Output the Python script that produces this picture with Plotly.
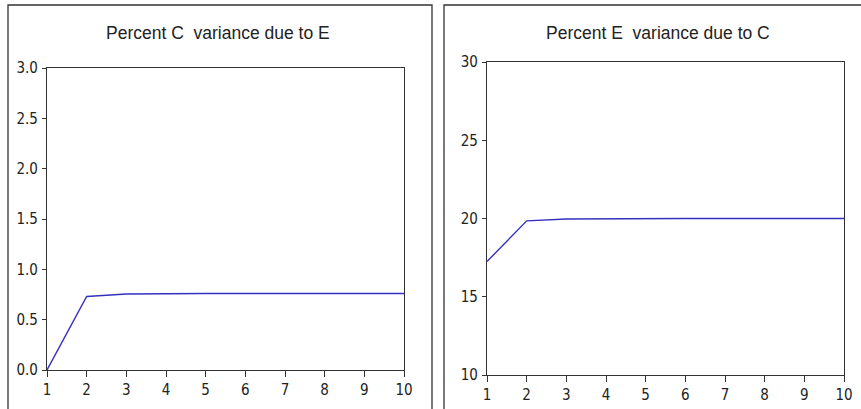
import plotly.graph_objects as go

periods = [1, 2, 3, 4, 5, 6, 7, 8, 9, 10]
c_due_to_e = [0.0, 0.73, 0.755, 0.76, 0.76, 0.76, 0.76, 0.76, 0.76, 0.76]
e_due_to_c = [17.25, 19.85, 19.97, 19.99, 20.0, 20.0, 20.0, 20.0, 20.0, 20.0]
titles = ["Percent C  variance due to E", "Percent E  variance due to C"]
left_yticks = [0.0, 0.5, 1.0, 1.5, 2.0, 2.5, 3.0]
right_yticks = [10, 15, 20, 25, 30]

W, H = 861, 409
FONT = "DejaVu Sans Condensed, Liberation Sans Narrow, Arial Narrow, Liberation Sans, sans-serif"
LINE = "#3431c0"

def px(x):
    return x / W

def py(y):
    return 1 - y / H

fig = go.Figure()
fig.add_trace(go.Scatter(x=periods, y=c_due_to_e, mode="lines",
                         line=dict(color=LINE, width=1.4), xaxis="x", yaxis="y",
                         showlegend=False))
fig.add_trace(go.Scatter(x=periods, y=e_due_to_c, mode="lines",
                         line=dict(color=LINE, width=1.4), xaxis="x2", yaxis="y2",
                         showlegend=False))

axis_common = dict(showgrid=False, zeroline=False, showline=True, mirror=True,
                   linecolor="#333", linewidth=1.3, ticks="outside", automargin=False,
                   tickcolor="#333", tickfont=dict(family=FONT, size=15, color="#222"))

fig.update_layout(
    width=W, height=H, margin=dict(l=0, r=0, t=0, b=0, autoexpand=False),
    paper_bgcolor="white", plot_bgcolor="white",
    xaxis=dict(domain=[px(47), px(404)], range=[1, 10], tickvals=periods,
               ticklen=6, anchor="y", **axis_common),
    yaxis=dict(domain=[py(370), py(68)], range=[0, 3], tickvals=left_yticks,
               tickformat=".1f", ticklen=4, ticklabelstandoff=1, anchor="x", **axis_common),
    xaxis2=dict(domain=[px(487), px(844)], range=[1, 10], tickvals=periods,
                ticklen=6, anchor="y2", **axis_common),
    yaxis2=dict(domain=[py(375), py(62)], range=[10, 30], tickvals=right_yticks,
                ticklen=4, ticklabelstandoff=1, anchor="x2", **axis_common),
    shapes=[
        dict(type="rect", xref="paper", yref="paper", x0=px(8), x1=px(432),
             y0=py(420), y1=py(5), line=dict(color="#333", width=1.3)),
        dict(type="rect", xref="paper", yref="paper", x0=px(444), x1=px(880),
             y0=py(420), y1=py(5), line=dict(color="#333", width=1.3)),
    ],
    annotations=[
        dict(text=titles[0], xref="paper", yref="paper", x=px(218), y=py(33),
             showarrow=False, font=dict(family="Liberation Sans, Arial, sans-serif", size=17.5, color="#222"),
             xanchor="center", yanchor="middle"),
        dict(text=titles[1], xref="paper", yref="paper", x=px(658), y=py(33),
             showarrow=False, font=dict(family="Liberation Sans, Arial, sans-serif", size=17.5, color="#222"),
             xanchor="center", yanchor="middle"),
    ],
)

fig.write_html("out.html", config={"displayModeBar": False},
               post_script="document.body.style.margin='0';document.body.style.overflow='hidden';")
